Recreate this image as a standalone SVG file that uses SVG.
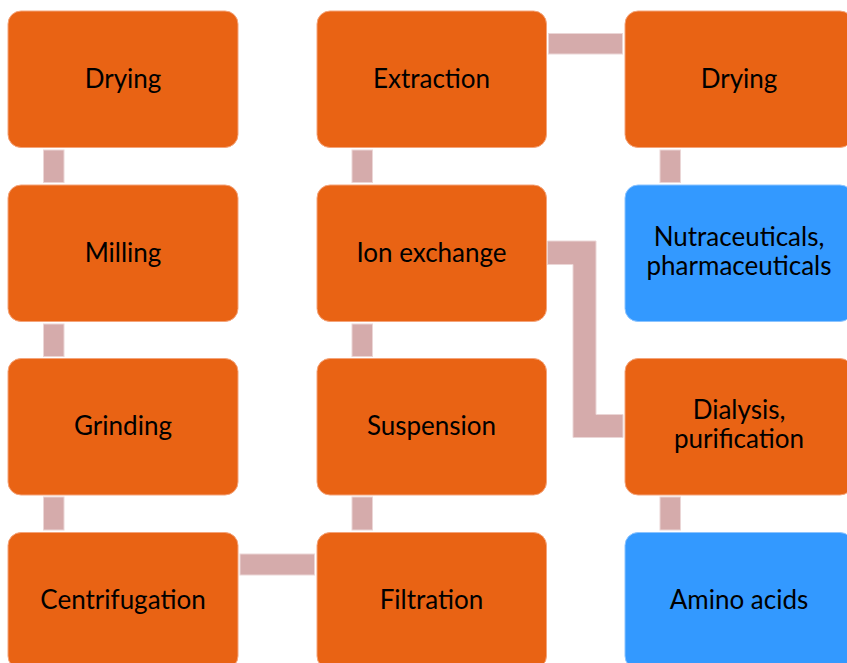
<svg xmlns="http://www.w3.org/2000/svg" width="847" height="663" viewBox="0 0 847 663">
<style>
.o{fill:#E96314;stroke:#F4A47A;stroke-width:1}
.b{fill:#3399FF;stroke:#8CC4FF;stroke-width:1}
.c{fill:#D5ABAB;stroke:#EBD6D6;stroke-width:1}
text{font-family:Lato,"Open Sans","Liberation Sans",sans-serif;font-size:26px;fill:#000;text-anchor:middle}
</style>
<rect width="847" height="663" fill="#fff"/>
<g id="connectors">
<rect class="c" x="43.5" y="150" width="20.5" height="32.5"/>
<rect class="c" x="43.5" y="324" width="20.5" height="32.5"/>
<rect class="c" x="43.5" y="497" width="20.5" height="33"/>
<rect class="c" x="352" y="150" width="20.5" height="32.5"/>
<rect class="c" x="352" y="324" width="20.5" height="32.5"/>
<rect class="c" x="352" y="497" width="20.5" height="33"/>
<rect class="c" x="660" y="150" width="20.5" height="32.5"/>
<rect class="c" x="660" y="497" width="20.5" height="33"/>
<rect class="c" x="548.5" y="33.5" width="74" height="20.5"/>
<rect class="c" x="240" y="554" width="74.5" height="21"/>
<polygon class="c" points="547.5,241 596,241 596,414.5 623,414.5 623,437.5 573,437.5 573,264.5 547.5,264.5"/>
</g>
<g id="n1"><rect class="o" x="8" y="11" width="230" height="136.5" rx="13"/><text x="123" y="87.5">Drying</text></g>
<g id="n2"><rect class="o" x="8" y="185" width="230" height="136.5" rx="13"/><text x="123" y="261.5">Milling</text></g>
<g id="n3"><rect class="o" x="8" y="358.5" width="230" height="136.5" rx="13"/><text x="123" y="434.5">Grinding</text></g>
<g id="n4"><rect class="o" x="8" y="532.5" width="230" height="136.5" rx="13"/><text x="123" y="608.5">Centrifugation</text></g>
<g id="n5"><rect class="o" x="317" y="11" width="229.5" height="136.5" rx="13"/><text x="431.5" y="87.5">Extraction</text></g>
<g id="n6"><rect class="o" x="317" y="185" width="229.5" height="136.5" rx="13"/><text x="431.5" y="261.5">Ion exchange</text></g>
<g id="n7"><rect class="o" x="317" y="358.5" width="229.5" height="136.5" rx="13"/><text x="431.5" y="434.5">Suspension</text></g>
<g id="n8"><rect class="o" x="317" y="532.5" width="229.5" height="136.5" rx="13"/><text x="431.5" y="608.5">Filtration</text></g>
<g id="n9"><rect class="o" x="625" y="11" width="228" height="136.5" rx="13"/><text x="739" y="87.5">Drying</text></g>
<g id="n10"><rect class="b" x="625" y="185" width="228" height="136.5" rx="13"/><text x="739" y="246">Nutraceuticals,</text><text x="739" y="275">pharmaceuticals</text></g>
<g id="n11"><rect class="o" x="625" y="358.5" width="228" height="136.5" rx="13"/><text x="739" y="419">Dialysis,</text><text x="739" y="448">purification</text></g>
<g id="n12"><rect class="b" x="625" y="532.5" width="228" height="136.5" rx="13"/><text x="739" y="608.5">Amino acids</text></g>
</svg>
